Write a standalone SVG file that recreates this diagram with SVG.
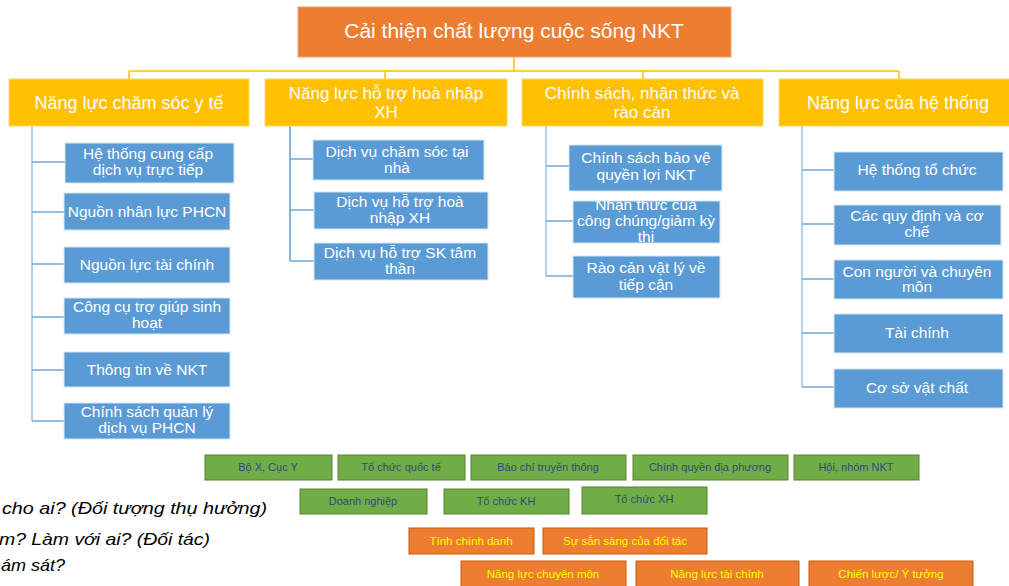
<svg xmlns="http://www.w3.org/2000/svg" width="1009" height="586" viewBox="0 0 1009 586">
<style>
text{font-family:"Liberation Sans",Arial,sans-serif;text-anchor:middle}
.top{fill:#ED7D31;stroke:#F4A46F;stroke-width:1}
.top-t{fill:#fff;font-size:21px}
.l1{fill:#FFC000;stroke:#FFD966;stroke-width:1}
.l1-t{fill:#fff;font-size:18px}
.l1-t2{fill:#fff;font-size:17px}
.bl{fill:#5B9BD5;stroke:#D6E6F5;stroke-width:1}
.bl-t{fill:#fff;font-size:15.5px}
.gr{fill:#70AD47;stroke:#548235;stroke-width:1}
.gr-t{fill:#2F4B7C;font-size:11px}
.or{fill:#ED7D31;stroke:#C55A11;stroke-width:1}
.or-t{fill:#FFFF00;font-size:11.5px}
.side{fill:#000;font-size:17px;font-style:italic;text-anchor:start}
.cy{stroke:#FFC000;stroke-width:1.5;fill:none}
.cv{stroke:#9DC3E6;stroke-width:1.5;fill:none}
.cv2{stroke:#5B9BD5;stroke-width:1.5;fill:none}
.ch{stroke:#6FA8DC;stroke-width:1.5;fill:none}
</style>
<rect width="1009" height="586" fill="#fff"/>
<g id="connectors">
<path class="cy" d="M514 57V71M129 71H899M129 71V79M385 71V79M643 71V79M899 71V79"/>
<path class="cv" d="M32 126V421"/>
<path class="ch" d="M32 162H65M32 212H64M32 264H64M32 317H64M32 370H64M32 421H64"/>
<path class="cv2" d="M290 126V261"/>
<path class="ch" d="M290 159H313M290 210H314M290 261H314"/>
<path class="cv" d="M546 126V276"/>
<path class="ch" d="M546 166H569M546 221H573M546 276H573"/>
<path class="cv" d="M802 126V387"/>
<path class="ch" d="M802 170H834M802 224H834M802 279H834M802 333H834M802 387H834"/>
</g>
<g id="n-top"><rect class="top" x="298" y="7" width="433" height="50"/><text class="top-t" x="514" y="38">Cải thiện chất lượng cuộc sống NKT</text></g>
<g id="n-l1a"><rect class="l1" x="9" y="79" width="240" height="47"/><text class="l1-t" x="129" y="109">Năng lực chăm sóc y tế</text></g>
<g id="n-l1b"><rect class="l1" x="265" y="79" width="242" height="47"/><text class="l1-t2" x="386" y="99">Năng lực hỗ trợ hoà nhập</text><text class="l1-t2" x="386" y="118">XH</text></g>
<g id="n-l1c"><rect class="l1" x="522" y="79" width="241" height="47"/><text class="l1-t2" x="642" y="99">Chính sách, nhận thức và</text><text class="l1-t2" x="642" y="118">rào cản</text></g>
<g id="n-l1d"><rect class="l1" x="779" y="79" width="241" height="47"/><text class="l1-t" x="898" y="109">Năng lực của hệ thống</text></g>

<g id="n-a1"><rect class="bl" x="65" y="143" width="169" height="40"/><text class="bl-t" x="148" y="159">Hệ thống cung cấp</text><text class="bl-t" x="148" y="175">dịch vụ trực tiếp</text></g>
<g id="n-a2"><rect class="bl" x="64" y="193" width="166" height="37"/><text class="bl-t" x="147" y="217">Nguồn nhân lực PHCN</text></g>
<g id="n-a3"><rect class="bl" x="64" y="247" width="166" height="36"/><text class="bl-t" x="147" y="270">Nguồn lực tài chính</text></g>
<g id="n-a4"><rect class="bl" x="64" y="298" width="166" height="36"/><text class="bl-t" x="147" y="312">Công cụ trợ giúp sinh</text><text class="bl-t" x="147" y="328">hoạt</text></g>
<g id="n-a5"><rect class="bl" x="64" y="352" width="166" height="35"/><text class="bl-t" x="147" y="375">Thông tin về NKT</text></g>
<g id="n-a6"><rect class="bl" x="64" y="403" width="166" height="36"/><text class="bl-t" x="147" y="417">Chính sách quản lý</text><text class="bl-t" x="147" y="433">dịch vụ PHCN</text></g>

<g id="n-b1"><rect class="bl" x="313" y="140" width="171" height="40"/><text class="bl-t" x="397" y="157">Dịch vụ chăm sóc tại</text><text class="bl-t" x="397" y="173">nhà</text></g>
<g id="n-b2"><rect class="bl" x="314" y="192" width="174" height="37"/><text class="bl-t" x="400" y="207">Dịch vụ hỗ trợ hoà</text><text class="bl-t" x="400" y="223">nhập XH</text></g>
<g id="n-b3"><rect class="bl" x="314" y="243" width="174" height="37"/><text class="bl-t" x="400" y="258">Dịch vụ hỗ trợ SK tâm</text><text class="bl-t" x="400" y="274">thần</text></g>

<g id="n-c1"><rect class="bl" x="569" y="145" width="153" height="46"/><text class="bl-t" x="646" y="163">Chính sách bảo vệ</text><text class="bl-t" x="646" y="180">quyền lợi NKT</text></g>
<g id="n-c2"><rect class="bl" x="573" y="201" width="147" height="42"/><text class="bl-t" x="646" y="210">Nhận thức của</text><text class="bl-t" x="646" y="226">công chúng/giảm kỳ</text><text class="bl-t" x="646" y="242">thị</text></g>
<g id="n-c3"><rect class="bl" x="573" y="256" width="147" height="42"/><text class="bl-t" x="646" y="273">Rào cản vật lý về</text><text class="bl-t" x="646" y="290">tiếp cận</text></g>

<g id="n-d1"><rect class="bl" x="834" y="152" width="169" height="39"/><text class="bl-t" x="917" y="175">Hệ thống tổ chức</text></g>
<g id="n-d2"><rect class="bl" x="834" y="205" width="167" height="40"/><text class="bl-t" x="917" y="221">Các quy định và cơ</text><text class="bl-t" x="917" y="237">chế</text></g>
<g id="n-d3"><rect class="bl" x="834" y="260" width="169" height="39"/><text class="bl-t" x="917" y="277">Con người và chuyên</text><text class="bl-t" x="917" y="292">môn</text></g>
<g id="n-d4"><rect class="bl" x="834" y="314" width="169" height="39"/><text class="bl-t" x="917" y="338">Tài chính</text></g>
<g id="n-d5"><rect class="bl" x="834" y="369" width="169" height="39"/><text class="bl-t" x="917" y="393">Cơ sở vật chất</text></g>

<g id="n-g1"><rect class="gr" x="205" y="455" width="127" height="25"/><text class="gr-t" x="268" y="471">Bộ X, Cục Y</text></g>
<g id="n-g2"><rect class="gr" x="338" y="455" width="127" height="25"/><text class="gr-t" x="401" y="471">Tổ chức  quốc tế</text></g>
<g id="n-g3"><rect class="gr" x="471" y="455" width="155" height="25"/><text class="gr-t" x="548" y="471">Báo chí truyền thông</text></g>
<g id="n-g4"><rect class="gr" x="633" y="455" width="155" height="25"/><text class="gr-t" x="710" y="471">Chính  quyền địa phương</text></g>
<g id="n-g5"><rect class="gr" x="794" y="455" width="125" height="25"/><text class="gr-t" x="856" y="471">Hội,  nhóm  NKT</text></g>
<g id="n-g6"><rect class="gr" x="300" y="489" width="127" height="25"/><text class="gr-t" x="363" y="505">Doanh nghiệp</text></g>
<g id="n-g7"><rect class="gr" x="444" y="489" width="125" height="25"/><text class="gr-t" x="506" y="505">Tổ chức KH</text></g>
<g id="n-g8"><rect class="gr" x="582" y="487" width="125" height="27"/><text class="gr-t" x="644" y="503">Tổ chức XH</text></g>

<g id="n-o1"><rect class="or" x="409" y="528" width="125" height="26"/><text class="or-t" x="471" y="545">Tính chính danh</text></g>
<g id="n-o2"><rect class="or" x="543" y="528" width="164" height="26"/><text class="or-t" x="625" y="545">Sự sẵn sàng của đối tác</text></g>
<g id="n-o3"><rect class="or" x="461" y="561" width="165" height="30"/><text class="or-t" x="543" y="578">Năng lực chuyên môn</text></g>
<g id="n-o4"><rect class="or" x="636" y="561" width="163" height="30"/><text class="or-t" x="717" y="578">Năng lực tài chính</text></g>
<g id="n-o5"><rect class="or" x="809" y="561" width="164" height="30"/><text class="or-t" x="891" y="578">Chiến lược/ Ý tưởng</text></g>

<g id="side-text">
<text class="side" x="2" y="514" textLength="265" lengthAdjust="spacingAndGlyphs">cho ai? (Đối tượng thụ hưởng)</text>
<text class="side" x="-1" y="545" textLength="211" lengthAdjust="spacingAndGlyphs">m? Làm với ai? (Đối tác)</text>
<text class="side" x="1" y="571" textLength="64" lengthAdjust="spacingAndGlyphs">ám sát?</text>
</g>
</svg>
